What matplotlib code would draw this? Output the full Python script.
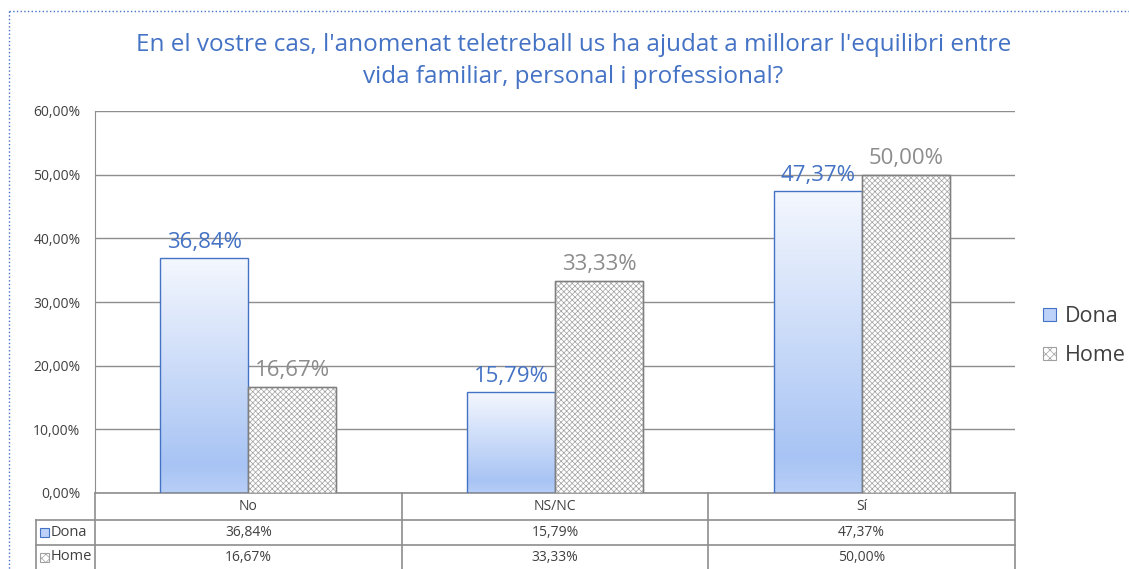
import matplotlib
matplotlib.use("Agg")
import matplotlib.pyplot as plt
import numpy as np
from matplotlib.patches import Patch, Rectangle
from matplotlib.colors import LinearSegmentedColormap
from matplotlib.lines import Line2D

plt.rcParams['font.family'] = ['Open Sans', 'DejaVu Sans']
plt.rcParams['hatch.linewidth'] = 0.5

# data
categories = ['No', 'NS/NC', 'Sí']
series = ['Dona', 'Home']
dona = [36.84, 15.79, 47.37]
home = [16.67, 33.33, 50.00]
title = "En el vostre cas, l'anomenat teletreball us ha ajudat a millorar l'equilibri entre\nvida familiar, personal i professional?"

blue = '#4472C4'
grey_lbl = '#8C8C8C'
line_col = '#8E8E8E'
txt_col = '#404040'
hatch_col = '#A0A0A0'

def pct(v):
    return f'{v:.2f}%'.replace('.', ',')

W, H = 1129, 569
fig = plt.figure(figsize=(W / 100, H / 100), dpi=100)
ax = fig.add_axes([95 / W, 1 - 493 / H, 920 / W, 382 / H])

x = np.arange(len(categories))
bw = 0.287

# Dona bars with vertical gradient
grad = LinearSegmentedColormap.from_list('g', [(0, '#B8CFF7'), (0.12, '#A8C4F4'), (1, '#F4F7FE')])
dona_bars = ax.bar(x - bw / 2, dona, bw, facecolor='none', edgecolor=blue, linewidth=1, zorder=3)
for b in dona_bars:
    bx, by = b.get_x(), b.get_y()
    img = ax.imshow(np.linspace(0, 1, 256).reshape(-1, 1), cmap=grad, origin='lower', aspect='auto',
                    extent=[bx, bx + b.get_width(), by, by + b.get_height()], zorder=2)
    img.set_clip_path(b)

home_bars = ax.bar(x + bw / 2, home, bw, facecolor='white', edgecolor=hatch_col, hatch='xxxxxx',
                   linewidth=1, zorder=3)
for b in home_bars:
    ax.add_patch(Rectangle((b.get_x(), 0), b.get_width(), b.get_height(), facecolor='none',
                           edgecolor='#7F7F7F', lw=1, zorder=4))

for xi, v in zip(x, dona):
    ax.annotate(pct(v), (xi - bw / 2, v), xytext=(0, 4), textcoords='offset points',
                ha='center', va='bottom', fontsize=16, color=blue)
for xi, v in zip(x, home):
    ax.annotate(pct(v), (xi + bw / 2, v), xytext=(0, 4), textcoords='offset points',
                ha='center', va='bottom', fontsize=16, color=grey_lbl)

ax.set_xlim(-0.5, len(categories) - 0.5)
ax.set_ylim(0, 60)
ax.set_yticks(np.arange(0, 61, 10))
ax.set_yticklabels([pct(t) for t in np.arange(0, 61, 10)], fontsize=10, color=txt_col)
ax.tick_params(axis='y', length=0, pad=10.5)
ax.set_xticks([])
ax.grid(axis='y', color=line_col, linewidth=1)
ax.set_axisbelow(True)
for s in ['top', 'right', 'bottom']:
    ax.spines[s].set_visible(False)
ax.spines['left'].set_color(line_col)

# data table under the plot
tr = ax.get_xaxis_transform()
r1, r2, r3 = -27 / 382, -52 / 382, -80 / 382
left_lab = -0.5 - 59 / 920 * 3
ax.add_line(Line2D([-0.5, 2.5], [0, 0], transform=tr, color=line_col, lw=1.2, clip_on=False))
for yy in [r1, r2]:
    ax.add_line(Line2D([left_lab, 2.5], [yy, yy], transform=tr, color=line_col, lw=1.2, clip_on=False))
for xx in [-0.5, 0.5, 1.5, 2.5]:
    ax.add_line(Line2D([xx, xx], [0, r3], transform=tr, color=line_col, lw=1.2, clip_on=False))
ax.add_line(Line2D([left_lab, left_lab], [r1, r3], transform=tr, color=line_col, lw=1.2, clip_on=False))

for xi, c in zip(x, categories):
    ax.text(xi, r1 / 2, c, transform=tr, ha='center', va='center', fontsize=10, color=txt_col)
for xi, v in zip(x, dona):
    ax.text(xi, (r1 + r2) / 2, pct(v), transform=tr, ha='center', va='center', fontsize=10, color=txt_col)
for xi, v in zip(x, home):
    ax.text(xi, (r2 + r3 + 0.01) / 2, pct(v), transform=tr, ha='center', va='center', fontsize=10, color=txt_col)

# row labels with keys (figure pixel positions)
def fx(px):
    return px / W

def fy(py):
    return 1 - py / H

fig.patches.append(Rectangle((fx(40), fy(537)), 9 / W, 9 / H, transform=fig.transFigure,
                             facecolor='#BDD2F8', edgecolor=blue, lw=0.8))
fig.patches.append(Rectangle((fx(40), fy(562)), 9 / W, 9 / H, transform=fig.transFigure,
                             facecolor='white', edgecolor=hatch_col, hatch='xxxx', lw=0.8))
fig.text(fx(51), fy(532), series[0], ha='left', va='center', fontsize=10.5, color=txt_col)
fig.text(fx(51), fy(557), series[1], ha='left', va='center', fontsize=10.5, color=txt_col)

# legend
handles = [Patch(facecolor='#BDD2F8', edgecolor=blue, lw=0.8),
           Patch(facecolor='white', edgecolor=hatch_col, hatch='xxxx', lw=0.8)]
fig.legend(handles, series, loc='center left', bbox_to_anchor=(fx(1024), fy(336)), frameon=False,
           fontsize=15.5, handlelength=0.58, handleheight=0.58, handletextpad=0.4, labelspacing=0.85,
           labelcolor=txt_col)

# title
fig.text(0.508, fy(61), title, ha='center', va='center', fontsize=17.5, color=blue, linespacing=1.45)

# dotted chart-area border
fig.add_artist(Line2D([fx(9), 1], [fy(11), fy(11)], transform=fig.transFigure, color=blue, lw=1, ls=':'))
fig.add_artist(Line2D([fx(9), fx(9)], [fy(11), 0], transform=fig.transFigure, color=blue, lw=1, ls=':'))

fig.savefig('out.png', dpi=100)
